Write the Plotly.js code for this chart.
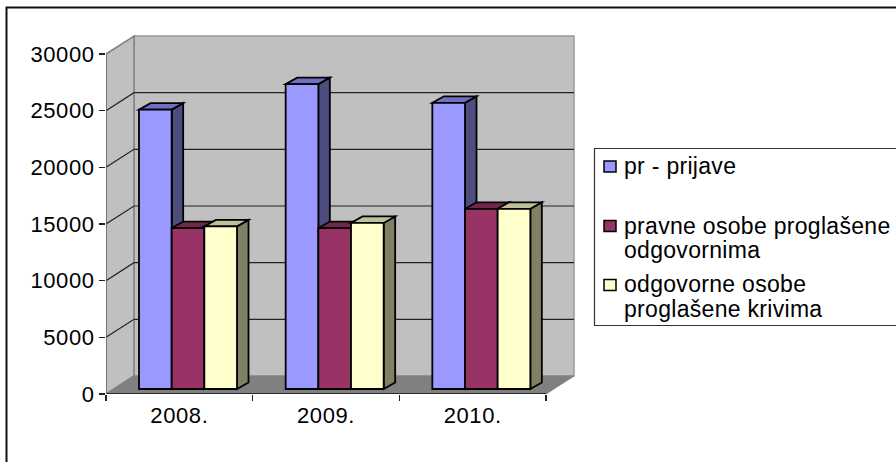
<!DOCTYPE html>
<html>
<head>
<meta charset="utf-8">
<script src="https://cdn.plot.ly/plotly-3.0.1.min.js"></script>
<style>
html,body{margin:0;padding:0;background:#fff;overflow:hidden}
.xtick text,.ytick text{letter-spacing:.6px}
.annotation-text{letter-spacing:.3px}
</style>
</head>
<body>
<div id="chart" style="width:896px;height:462px"></div>
<script>
const categories = ["2008.", "2009.", "2010."];
const prijave = [24650, 26900, 25250];
const pravneOsobe = [14200, 14200, 15900];
const odgovorneOsobe = [14350, 14650, 15900];
const yTicks = [0, 5000, 10000, 15000, 20000, 25000, 30000];
const legendLines = [
  ["pr - prijave"],
  ["pravne osobe proglašene", "odgovornima"],
  ["odgovorne osobe", "proglašene krivima"]
];

const W = 896, H = 462;
const plot = {l: 106, r: 576, t: 34, b: 394};
const pxPerCat = 440 / 3, pxPerVal = 340 / 30000;
const wallDX = 28 / pxPerCat, wallDY = 18 / pxPerVal;
const barDX = 11.5 / pxPerCat, barDY = 6.5 / pxPerVal;
const barBase = 5 / pxPerVal;
const barWidth = 32.67 / pxPerCat, groupStart = 33 / pxPerCat;
const xMax = 3 + 30 / pxPerCat, yMax = 360 / pxPerVal;

const series = [
  {name: legendLines[0].join(" "), values: prijave, front: "#9999FF", side: "#4D4D80", top: "#7070C0"},
  {name: legendLines[1].join(" "), values: pravneOsobe, front: "#993366", side: "#4D1A33", top: "#73264D"},
  {name: legendLines[2].join(" "), values: odgovorneOsobe, front: "#FFFFCC", side: "#808066", top: "#BFBF99"}
];

function poly(points) {
  return "M" + points.map(p => p[0] + "," + p[1]).join(" L") + " Z";
}
const shapes = [];
function face(points, fill, lineColor, lineWidth) {
  shapes.push({type: "path", xref: "x", yref: "y", layer: "below", path: poly(points),
    fillcolor: fill, line: {color: lineColor, width: lineWidth}});
}
// walls and floor
face([[wallDX, wallDY], [3 + wallDX, wallDY], [3 + wallDX, 30000 + wallDY], [wallDX, 30000 + wallDY]], "#C0C0C0", "#999999", 1.5);
face([[0, 30000], [wallDX, 30000 + wallDY], [wallDX, wallDY], [0, 0]], "#C0C0C0", "#808080", 1.5);
face([[0, 0], [wallDX, wallDY], [3 + wallDX, wallDY], [3, 0]], "#808080", "#808080", 1);
// gridlines
yTicks.slice(1, -1).forEach(v => {
  shapes.push({type: "path", xref: "x", yref: "y", layer: "below",
    path: `M0,${v} L${wallDX},${v + wallDY} L${3 + wallDX},${v + wallDY}`,
    line: {color: "#222222", width: 1.2}});
});
// bar tops and sides
categories.forEach((c, i) => {
  series.forEach((s, j) => {
    const x0 = i + groupStart + j * barWidth, x1 = x0 + barWidth;
    const y0 = barBase, y1 = barBase + s.values[i];
    face([[x1, y0], [x1 + barDX, y0 + barDY], [x1 + barDX, y1 + barDY], [x1, y1]], s.side, "#000", 1.8);
    face([[x0, y1], [x1, y1], [x1 + barDX, y1 + barDY], [x0 + barDX, y1 + barDY]], s.top, "#000", 1.8);
  });
});

const traces = series.map((s, j) => ({
  type: "bar",
  name: s.name,
  x: categories.map((c, i) => i + groupStart + (j + 0.5) * barWidth),
  y: s.values,
  base: categories.map(() => barBase),
  width: barWidth,
  marker: {color: s.front, line: {color: "#000", width: 1.8}},
  hoverinfo: "y+name",
  showlegend: false
}));
// axis lines, which stop at the front edge of the floor
traces.push({type: "scatter", mode: "lines", x: [0, 3], y: [0, 0], cliponaxis: false,
  line: {color: "#111", width: 1.5}, hoverinfo: "skip", showlegend: false});
traces.push({type: "scatter", mode: "lines", x: [0, 0], y: [0, 30000], cliponaxis: false,
  line: {color: "#666", width: 1.2}, hoverinfo: "skip", showlegend: false});

const fx = px => (px - plot.l) / (plot.r - plot.l);
const fy = py => (plot.b - py) / (plot.b - plot.t);

// outer frame, open at the right and bottom where the picture cuts it off
shapes.push({type: "path", xref: "paper", yref: "paper", layer: "above",
  path: `M${fx(6.5)},${fy(470)} L${fx(6.5)},${fy(7.5)} L${fx(905)},${fy(7.5)}`,
  line: {color: "#111", width: 2}});
// legend box
shapes.push({type: "path", xref: "paper", yref: "paper", layer: "above",
  path: `M${fx(905)},${fy(148.5)} L${fx(594.5)},${fy(148.5)} L${fx(594.5)},${fy(325.5)} L${fx(905)},${fy(325.5)}`,
  line: {color: "#333", width: 1.2}});

const swatchY = [166.5, 226, 285];
const lineBaselines = [[172.7], [233, 257], [291, 316]];
const annotations = [];
series.forEach((s, j) => {
  shapes.push({type: "rect", xref: "paper", yref: "paper", layer: "above",
    x0: fx(604), x1: fx(616), y0: fy(swatchY[j] - 5.5), y1: fy(swatchY[j] + 5.5),
    fillcolor: s.front, line: {color: "#000", width: 1.5}});
  legendLines[j].forEach((t, k) => {
    annotations.push({xref: "paper", yref: "paper", x: fx(623), y: fy(lineBaselines[j][k] - 7),
      xanchor: "left", yanchor: "middle", showarrow: false, text: t, borderpad: 0,
      font: {family: "Liberation Sans, Arial, sans-serif", size: 23, color: "#000"}});
  });
});

Plotly.newPlot("chart", traces, {
  width: W, height: H,
  barmode: "overlay",
  showlegend: false,
  paper_bgcolor: "#fff",
  plot_bgcolor: "rgba(0,0,0,0)",
  margin: {l: plot.l, r: W - plot.r, t: plot.t, b: H - plot.b, pad: 0},
  font: {family: "Liberation Sans, Arial, sans-serif", size: 22, color: "#000"},
  xaxis: {
    range: [0, xMax], showgrid: false, zeroline: false, showline: false,
    tickmode: "array", tickvals: categories.map((c, i) => i + 0.5), ticktext: categories,
    ticks: "", tickfont: {size: 22}, ticklabelstandoff: 6,
    minor: {tickmode: "array", tickvals: [0, 1, 2, 3], ticks: "outside", ticklen: 6, tickwidth: 1.2, tickcolor: "#222", showgrid: false}
  },
  yaxis: {
    range: [0, yMax], showgrid: false, zeroline: false, showline: false,
    tickmode: "array", tickvals: yTicks, ticktext: yTicks.map(String),
    ticks: "outside", ticklen: 6, tickwidth: 1.2, tickcolor: "#222",
    tickfont: {size: 22}
  },
  shapes: shapes,
  annotations: annotations
}, {displayModeBar: false, staticPlot: true});
</script>
</body>
</html>
